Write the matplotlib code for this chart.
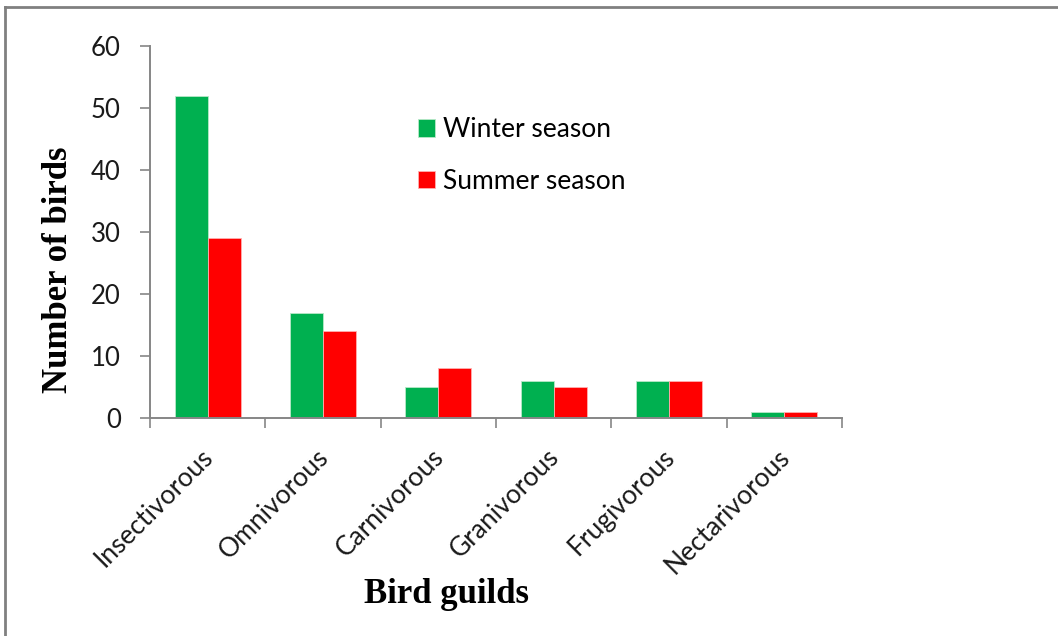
import matplotlib
matplotlib.use("Agg")
import matplotlib.pyplot as plt
from matplotlib.lines import Line2D
from matplotlib.patches import Patch
from matplotlib.transforms import ScaledTranslation
import numpy as np

guilds = ["Insectivorous", "Omnivorous", "Carnivorous", "Granivorous", "Frugivorous", "Nectarivorous"]
winter = [52, 17, 5, 6, 6, 1]
summer = [29, 14, 8, 5, 6, 1]
y_ticks = [0, 10, 20, 30, 40, 50, 60]

green = "#00B050"
red = "#FF0000"
axis_gray = "#868686"
sans = "Lato"
serif = "Liberation Serif"

fig = plt.figure(figsize=(10.58, 6.36), dpi=100)
ax = fig.add_axes([150 / 1058, 1 - 418 / 636, (842 - 150) / 1058, (418 - 46) / 636])

x = np.arange(len(guilds))
w = 0.286
ax.bar(x - w / 2, winter, width=w, color=green, edgecolor="#b8e8c8", linewidth=0.6, label="Winter season")
ax.bar(x + w / 2, summer, width=w, color=red, edgecolor="#ffb0b0", linewidth=0.6, label="Summer season")

ax.set_xlim(-0.5, len(guilds) - 0.5)
ax.set_ylim(0, 60)
ax.set_yticks(y_ticks)
ax.tick_params(axis="y", direction="out", length=7, width=1.2, color=axis_gray,
               labelsize=18.5, pad=14, labelcolor="#1a1a1a")
for lab in ax.get_yticklabels():
    lab.set_fontfamily(sans)

# category boundaries carry the x tick marks, names sit at the centres
ax.set_xticks(np.arange(len(guilds) + 1) - 0.5)
ax.set_xticklabels([])
ax.tick_params(axis="x", which="major", direction="out", length=7, width=1.2, color=axis_gray)
ax.set_xticks(x, minor=True)
ax.set_xticklabels(guilds, minor=True, rotation=45, ha="right", rotation_mode="anchor",
                   fontsize=19, fontfamily=sans, color="#1a1a1a")
ax.tick_params(axis="x", which="minor", length=0, pad=19)
shift = ScaledTranslation(-7 / 100, 0, fig.dpi_scale_trans)
for lab in ax.get_xticklabels(minor=True):
    lab.set_transform(lab.get_transform() + shift)

for s in ["top", "right"]:
    ax.spines[s].set_visible(False)
for s in ["left", "bottom"]:
    ax.spines[s].set_color(axis_gray)
    ax.spines[s].set_linewidth(1.4)

ax.set_ylabel("Number of birds", fontfamily=serif, fontweight="bold", fontsize=25)
ax.yaxis.set_label_coords(-0.108, 0.398)
ax.set_xlabel("Bird guilds", fontfamily=serif, fontweight="bold", fontsize=25)
ax.xaxis.set_label_coords(0.428, -0.43)

handles = [Patch(facecolor=green, edgecolor="#b8e8c8", linewidth=0.6),
           Patch(facecolor=red, edgecolor="#ffb0b0", linewidth=0.6)]
ax.legend(handles, ["Winter season", "Summer season"], loc="upper left",
          bbox_to_anchor=(0.387, 0.808), borderaxespad=0, borderpad=0,
          frameon=False, handlelength=0.65, handleheight=0.65, handletextpad=0.3,
          labelspacing=1.0, prop={"family": sans, "size": 19})

# outer chart-area border (top and left edges)
fig.add_artist(Line2D([5 / 1058, 5 / 1058], [0, 1 - 7 / 636], transform=fig.transFigure,
                      color="#808080", linewidth=2))
fig.add_artist(Line2D([5 / 1058, 1], [1 - 7 / 636, 1 - 7 / 636], transform=fig.transFigure,
                      color="#808080", linewidth=2))

fig.savefig("out.png", dpi=100)
